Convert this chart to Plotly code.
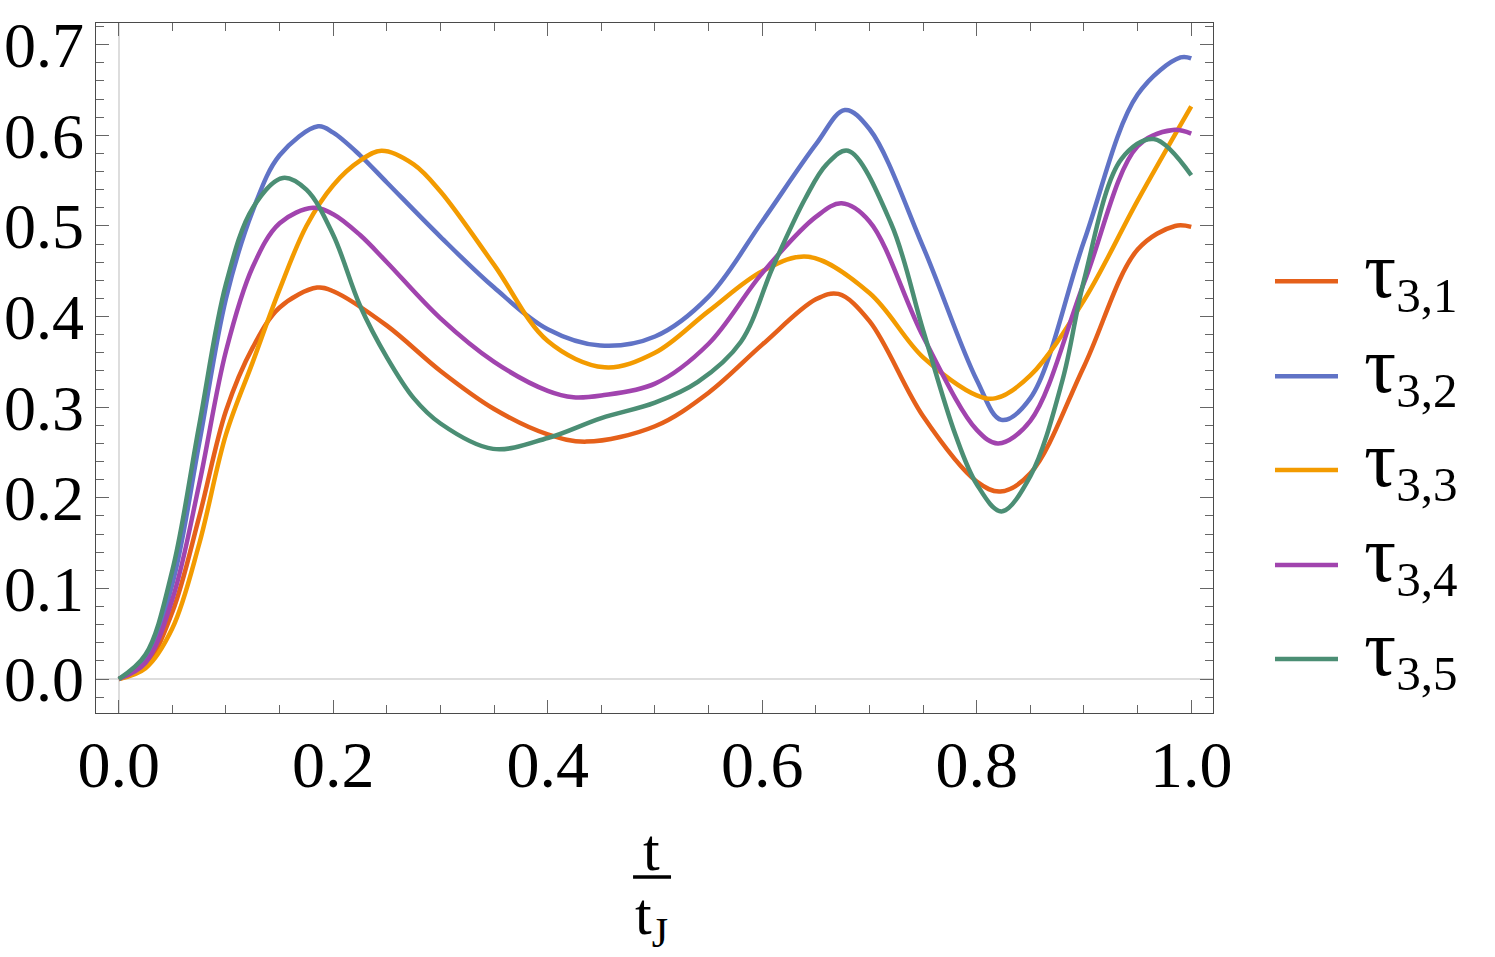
import plotly.graph_objects as go

# ----------------------------------------------------------
# data
# ----------------------------------------------------------

x_tau31 = [0, 0.025, 0.05, 0.075, 0.1, 0.125, 0.15, 0.185, 0.2, 0.25, 0.3, 0.35, 0.4, 0.436,
           0.5, 0.55, 0.6, 0.65, 0.671, 0.7, 0.75, 0.8, 0.822, 0.85, 0.9, 0.95, 0.985, 1.0]
y_tau31 = [0, 0.015, 0.074, 0.179, 0.296, 0.366, 0.41, 0.432, 0.428, 0.39, 0.34, 0.298, 0.27, 0.262,
           0.279, 0.316, 0.369, 0.419, 0.425, 0.395, 0.29, 0.218, 0.207, 0.227, 0.345, 0.474, 0.50, 0.499]

x_tau32 = [0, 0.025, 0.05, 0.075, 0.1, 0.125, 0.15, 0.186, 0.2, 0.225, 0.25, 0.3, 0.35, 0.4, 0.449,
           0.5, 0.55, 0.6, 0.65, 0.677, 0.7, 0.75, 0.8, 0.823, 0.85, 0.9, 0.95, 0.99, 1.0]
y_tau32 = [0, 0.022, 0.105, 0.26, 0.42, 0.517, 0.578, 0.61, 0.603, 0.578, 0.548, 0.488, 0.432, 0.386, 0.368,
           0.378, 0.422, 0.505, 0.59, 0.628, 0.607, 0.477, 0.33, 0.286, 0.31, 0.483, 0.645, 0.686, 0.685]

x_tau33 = [0, 0.025, 0.05, 0.075, 0.1, 0.125, 0.15, 0.175, 0.2, 0.225, 0.245, 0.275, 0.3, 0.35, 0.4,
           0.453, 0.5, 0.55, 0.6, 0.643, 0.7, 0.75, 0.8, 0.818, 0.85, 0.9, 0.95, 1.0]
y_tau33 = [0, 0.012, 0.056, 0.149, 0.27, 0.35, 0.43, 0.5, 0.545, 0.572, 0.583, 0.568, 0.538, 0.457, 0.373,
           0.344, 0.36, 0.406, 0.45, 0.466, 0.426, 0.355, 0.313, 0.31, 0.335, 0.418, 0.528, 0.632]

x_tau34 = [0, 0.025, 0.05, 0.075, 0.1, 0.125, 0.15, 0.181, 0.2, 0.225, 0.25, 0.3, 0.35, 0.4, 0.424,
           0.45, 0.5, 0.55, 0.6, 0.65, 0.674, 0.7, 0.75, 0.8, 0.82, 0.85, 0.9, 0.95, 0.983, 1.0]
y_tau34 = [0, 0.018, 0.088, 0.215, 0.362, 0.455, 0.503, 0.52, 0.513, 0.49, 0.46, 0.398, 0.35, 0.318, 0.311,
           0.313, 0.326, 0.37, 0.448, 0.51, 0.525, 0.505, 0.378, 0.275, 0.26, 0.285, 0.437, 0.588, 0.606, 0.602]

x_tau35 = [0, 0.025, 0.05, 0.075, 0.1, 0.125, 0.153, 0.175, 0.2, 0.225, 0.25, 0.275, 0.3, 0.349, 0.4,
           0.45, 0.5, 0.54, 0.58, 0.61, 0.64, 0.66, 0.68, 0.72, 0.75, 0.78, 0.8, 0.823, 0.85, 0.88, 0.9,
           0.935, 0.965, 1.0]
y_tau35 = [0, 0.027, 0.12, 0.28, 0.436, 0.52, 0.553, 0.54, 0.49, 0.412, 0.355, 0.31, 0.282, 0.254, 0.266,
           0.288, 0.305, 0.328, 0.372, 0.455, 0.53, 0.568, 0.583, 0.503, 0.385, 0.27, 0.215, 0.185, 0.224, 0.33,
           0.44, 0.574, 0.596, 0.556]

series_subs = ["3,1", "3,2", "3,3", "3,4", "3,5"]
series_x = [x_tau31, x_tau32, x_tau33, x_tau34, x_tau35]
series_y = [y_tau31, y_tau32, y_tau33, y_tau34, y_tau35]
colors = ["#E5601A", "#6073C6", "#F39B00", "#A144AE", "#4B8E74"]

x_ticks = [0.0, 0.2, 0.4, 0.6, 0.8, 1.0]
y_ticks = [0.0, 0.1, 0.2, 0.3, 0.4, 0.5, 0.6, 0.7]

SERIF = "Liberation Serif, Times New Roman, serif"

# ----------------------------------------------------------
# figure
# ----------------------------------------------------------

fig = go.Figure()

for sub, xs, ys, col in zip(series_subs, series_x, series_y, colors):
    fig.add_trace(go.Scatter(
        x=xs, y=ys, name="τ" + sub, mode="lines",
        line=dict(color=col, width=4.5, shape="spline", smoothing=1.0),
        showlegend=False,
    ))

axis_common = dict(
    showline=True, linecolor="#4a4a4a", linewidth=1.3, mirror="allticks",
    ticks="inside", ticklen=13, tickwidth=1.2, tickcolor="#666666",
    showgrid=False, zeroline=True, zerolinecolor="#dddddd", zerolinewidth=1.5,
    tickformat=".1f", automargin=False,
)

fig.update_xaxes(
    range=[-0.0212, 1.0203], tickvals=x_ticks, ticklabelstandoff=-6,
    tickfont=dict(family=SERIF, size=66, color="black"),
    minor=dict(dtick=0.05, tick0=0, ticks="inside", ticklen=8, tickwidth=1.2, tickcolor="#666666"),
    **axis_common,
)
fig.update_yaxes(
    range=[-0.0375, 0.724], tickvals=y_ticks, ticklabelstandoff=-2,
    tickfont=dict(family=SERIF, size=64, color="black"),
    minor=dict(dtick=0.02, tick0=0, ticks="inside", ticklen=8, tickwidth=1.2, tickcolor="#666666"),
    **axis_common,
)

# legend drawn by hand so the line samples keep their length
legend_y = [0.6258, 0.4882, 0.352, 0.2144, 0.0782]
for sub, col, ly in zip(series_subs, colors, legend_y):
    fig.add_shape(type="line", xref="paper", yref="paper",
                  x0=1.0555, x1=1.1119, y0=ly, y1=ly,
                  line=dict(color=col, width=4.5))
    fig.add_annotation(xref="paper", yref="paper", x=1.133, y=ly + 0.01,
                       xanchor="left", yanchor="middle", showarrow=False,
                       text="<span style='font-size:80px'>τ</span><sub>" + sub + "</sub>",
                       font=dict(family=SERIF, size=70, color="black"))

# axis label t / t_J as a stacked fraction
fig.add_annotation(xref="paper", yref="paper", x=0.4977, y=-0.2376, yshift=-8,
                   xanchor="center", yanchor="bottom", showarrow=False,
                   text="t", font=dict(family=SERIF, size=60, color="black"))
fig.add_shape(type="line", xref="paper", yref="paper",
              x0=0.4808, x1=0.5148, y0=-0.2376, y1=-0.2376,
              line=dict(color="black", width=3.5))
fig.add_annotation(xref="paper", yref="paper", x=0.4977, y=-0.24,
                   xanchor="center", yanchor="top", showarrow=False,
                   text="t<sub>J</sub>", font=dict(family=SERIF, size=60, color="black"))

fig.update_layout(
    width=1495, height=957,
    margin=dict(l=96, r=282, t=23, b=244),
    paper_bgcolor="white", plot_bgcolor="white",
    font=dict(family=SERIF, color="black"),
)

# drop the default 8 px page margin so the figure sits at the window corner
fig.write_html("out.html", config={"displayModeBar": False},
               post_script="document.body.style.margin = '0px';")
